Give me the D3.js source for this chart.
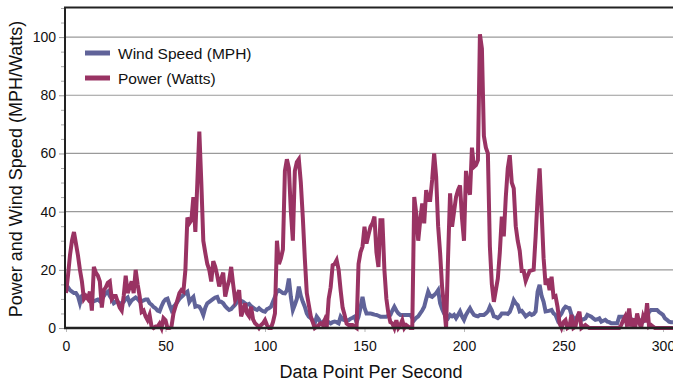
<!DOCTYPE html>
<html><head><meta charset="utf-8">
<script src="https://cdn.jsdelivr.net/npm/d3@7"></script>
<style>body{margin:0;background:#fff}svg{display:block;font-family:"Liberation Sans",Arial,sans-serif}</style>
</head><body>
<svg id="c" width="673" height="381"></svg>
<script>
const seriesNames = ["Wind Speed (MPH)", "Power (Watts)"];
const xTicks = [0, 50, 100, 150, 200, 250, 300];
const yTicks = [0, 20, 40, 60, 80, 100];
// one reading per data point (index = second)
const windSpeed = [
14,14,13,12.5,12,12,11,8.5,11,11.5,
10.5,10.5,10,9.8,9.2,9.5,9.8,9.2,10,11,
12,12.5,11,10,8.5,9,9,8.5,8.5,9,
10,10.5,8.5,9.5,10,10.5,10,9.2,9.2,9.5,
9.8,9.8,8.5,8,7.2,6.8,6,5.7,7.5,9,
9.8,10.1,8,6.2,7.3,8,9,10,10.7,11.3,
12,12.5,9,10,10.7,7.3,7.5,7.3,6.2,4.5,
7,8.5,9,9.5,10,10.5,10.7,9,9,8.5,
7.5,6.8,6.2,6.5,7.3,8,9,9.6,9.3,9,
8.5,8,8.3,7.5,7,6.5,6.2,6.8,6.2,5.8,
5.6,6.5,6.8,7.3,9,10.7,12.5,13,12.5,12,
11.9,13,17,10.7,6.2,8,10,14.2,11,9,
7.3,5,3.9,3.4,2.5,1.6,3.9,3,1.6,2,
2.7,2.5,2,1.6,2,2.2,2,1.6,3.9,3,
2.7,2.7,2.7,3.2,3.5,3.9,2,3.9,7,10.7,
7,5,5,5,4.8,4.6,4.5,4.2,3.9,3.9,
3.9,3.9,4.2,4.5,6,7.3,6,5,4.5,4.5,
4.5,4.5,4.5,4.5,3.5,2.7,3.5,4,5,6,
7.3,10,12.5,11,10.7,11.3,12,13,8.5,6.5,
5,4,3.4,4.5,4,4.5,3.4,4.5,5.7,4,
2.8,4.5,5.7,6.8,5.5,4.5,4.2,4,4.5,4.5,
4.5,5,5.7,7.3,6,4,3.8,3.4,4,5,
5,5,4.8,5.5,7.3,9.6,8.5,7.9,5.7,5.9,
5,4,4.5,5,4.5,4.8,5.7,12.5,14.8,11,
9,5.7,5.8,6,6.2,5,4.5,2.8,4,5,
6.5,7.3,7,6.8,4.5,3.5,2.8,3.9,3.4,2.8,
3,3.3,4.5,4.2,3.9,3.3,2.8,3,3.3,2.2,
2.5,2.8,2.2,2,1.6,1.6,1.6,1.6,3.9,3.9,
3.9,3.3,2.8,3.3,3,2.8,2.5,2.2,2.8,2.5,
2.2,3,3.9,5.5,6.2,6.2,6.2,6.2,5.5,5,
4.5,3.3,2.8,2.2,2,2
];
const power = [
12,18,25,30,33,29,25,20,16,10,
11,10,12.5,6,21,19,18,16,7,13,
14,15.5,16,10,11,11,9,7,6,11,
18,12,14,16,12,20,15,11,5.5,6,
4,2.7,4.5,0.5,0,0.5,0.5,1.5,0,3.4,
2.7,0,0,0.5,5,7.3,9.6,12,13,12.5,
20,38,36,37,45,33,50,67.5,50,30,
25.8,22,20,16,23,21,18,14.3,17,19,
10.8,14,16.5,21,15,9.6,11,13,4,6,
8.5,5,4,7.3,3,1.6,1,0,1,1.6,
2.7,1,0,0,2,5,30,22,24,27,
54,58,55,40,30,54,57,58,50,38,
24,12,8,4,2,0,0.5,1,1.6,1,
2.7,0,10,14,21.6,22,23.3,20,13,7,
4.5,1.5,1,1,1,0.5,0,22,26,28,
34.8,29,32,34.8,36,38.3,26,21,37,37,
20,10,5,2,1.6,0,2.7,0,1,2.7,
0,1,0.5,0,0,45,39.4,30,37,42.8,
36,47.4,44,44,50.9,60,52,35,25.8,14,
7.3,0,24.5,46.3,34.8,40,45,47.4,49,37.7,
30,54,48.5,45.8,62,55.4,56,57.7,101,96,
66,62,60,28,15,9,13,17,26,38.3,
31.5,45,54.9,59.4,50,48,35,30,26.5,19.6,
19.6,16.2,18,19.6,19.8,20,31.5,45,54.9,40,
24,14.8,17,13,17.6,10.7,11,7.3,1.6,0,
2,2.7,0,0.5,4.5,0,0.5,3.9,5.6,0,
0.5,1,0.5,0,0,0,0,0,0,0,
0,0,0,0,0,0,0,0,0,1,
2.7,4,0.5,6.7,0.5,3.3,0,5,2,0,
3.9,2,8.5,0.5,1,0.5,0,0,0,0,
0,0,0,0,0,0
];
const colors = ["#606399", "#993363"];

const svg = d3.select("#c");
const x = d3.scaleLinear().domain([0, 300]).range([66, 663]);
const y = d3.scaleLinear().domain([0, 110]).range([328, 8]);
const right = 690;

// gridlines
svg.append("g").selectAll("line").data(yTicks.filter(d => d > 0)).join("line")
  .attr("x1", 65).attr("x2", right).attr("y1", d => y(d)).attr("y2", d => y(d))
  .attr("stroke", "#9a9a9a").attr("stroke-width", 1.2);

// y axis ticks (major + minor)
const yAxis = d3.axisLeft(y).tickValues(yTicks).tickSize(6).tickPadding(3);
const gy = svg.append("g").attr("transform", "translate(65,0)").call(yAxis);
gy.select(".domain").remove();
gy.selectAll(".tick line").attr("stroke", "#999");
gy.selectAll(".tick text").attr("font-size", 14).attr("fill", "#111")
  .attr("font-family", "Liberation Sans, Arial, sans-serif");
const gyMinor = svg.append("g").attr("transform", "translate(65,0)")
  .call(d3.axisLeft(y).tickValues(d3.range(0, 111, 5).filter(v => v % 20 !== 0)).tickSize(4).tickFormat(""));
gyMinor.select(".domain").remove();
gyMinor.selectAll(".tick line").attr("stroke", "#aaa");

// x axis
const gx = svg.append("g").attr("transform", "translate(0,328)")
  .call(d3.axisBottom(x).tickValues(xTicks).tickSize(4).tickPadding(9));
gx.select(".domain").remove();
gx.selectAll(".tick line").attr("stroke", "#bbb");
gx.selectAll(".tick text").attr("font-size", 14).attr("fill", "#111")
  .attr("font-family", "Liberation Sans, Arial, sans-serif");

// lines
svg.append("clipPath").attr("id", "pc").append("rect")
  .attr("x", 0).attr("y", 8).attr("width", 700).attr("height", 340);
const line = d3.line().x((d, i) => x(i)).y(d => y(d));
[windSpeed, power].forEach((s, k) => {
  svg.append("path").datum(s).attr("d", line).attr("fill", "none")
    .attr("stroke", colors[k]).attr("stroke-width", 4).attr("stroke-linejoin", "miter")
    .attr("clip-path", "url(#pc)");
});

// frame
svg.append("line").attr("x1", 65).attr("x2", 65).attr("y1", 7).attr("y2", 329)
  .attr("stroke", "#222").attr("stroke-width", 2);
svg.append("line").attr("x1", 64).attr("x2", right).attr("y1", 328).attr("y2", 328)
  .attr("stroke", "#222").attr("stroke-width", 2.5);
svg.append("line").attr("x1", 64).attr("x2", right).attr("y1", 7.5).attr("y2", 7.5)
  .attr("stroke", "#222").attr("stroke-width", 2);

// legend
const leg = svg.append("g");
seriesNames.forEach((n, k) => {
  const ly = 53 + k * 25;
  leg.append("line").attr("x1", 85).attr("x2", 110).attr("y1", ly).attr("y2", ly)
    .attr("stroke", colors[k]).attr("stroke-width", 5);
  leg.append("text").attr("x", 118).attr("y", ly + 5.5).attr("font-size", 15.5)
    .attr("fill", "#111").text(n);
});

// axis titles
svg.append("text").attr("x", 371).attr("y", 378).attr("text-anchor", "middle")
  .attr("font-size", 18).attr("fill", "#111").text("Data Point Per Second");
svg.append("text").attr("transform", "translate(22,169) rotate(-90)").attr("text-anchor", "middle")
  .attr("font-size", 18).attr("fill", "#111").text("Power and Wind Speed (MPH/Watts)");
</script>
</body></html>
